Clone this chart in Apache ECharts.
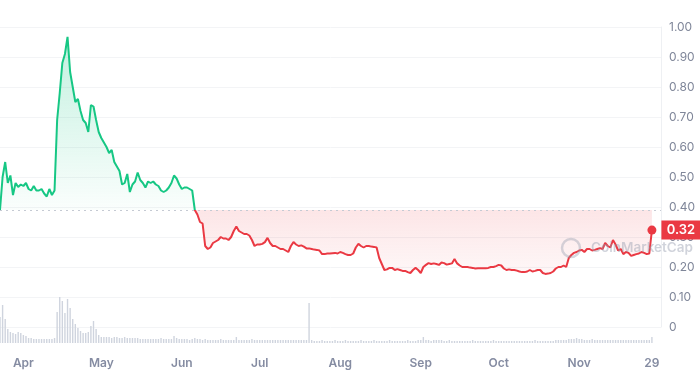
<!DOCTYPE html>
<html><head><meta charset="utf-8">
<script src="https://cdn.jsdelivr.net/npm/echarts@6/dist/echarts.min.js"></script>
<style>html,body{margin:0;padding:0;background:#fff}#c{width:700px;height:373px}</style>
</head><body><div id="c"></div>
<script>
const startDate = '2022-03-23';
const prices = [
0.39,0.50,0.55,0.48,0.505,0.44,0.48,0.467,0.475,0.47,
0.48,0.46,0.455,0.47,0.455,0.455,0.46,0.445,0.435,0.46,
0.44,0.455,0.69,0.78,0.88,0.91,0.967,0.85,0.80,0.75,
0.76,0.72,0.69,0.68,0.65,0.74,0.735,0.69,0.65,0.63,
0.615,0.60,0.58,0.59,0.55,0.535,0.52,0.475,0.48,0.51,
0.45,0.475,0.485,0.515,0.49,0.48,0.465,0.485,0.48,0.485,
0.475,0.47,0.455,0.45,0.455,0.465,0.48,0.505,0.495,0.475,
0.46,0.465,0.465,0.46,0.455,0.39,0.375,0.35,0.345,0.27,
0.26,0.265,0.28,0.285,0.29,0.30,0.295,0.295,0.29,0.30,
0.32,0.335,0.32,0.315,0.31,0.31,0.305,0.29,0.27,0.275,
0.275,0.277,0.283,0.297,0.28,0.27,0.27,0.265,0.26,0.26,
0.255,0.25,0.27,0.283,0.275,0.27,0.272,0.268,0.262,0.262,
0.26,0.258,0.257,0.255,0.243,0.243,0.245,0.245,0.246,0.247,
0.245,0.25,0.247,0.243,0.24,0.24,0.245,0.265,0.277,0.27,
0.265,0.27,0.27,0.268,0.267,0.265,0.23,0.21,0.19,0.192,
0.197,0.197,0.19,0.193,0.19,0.187,0.187,0.183,0.18,0.19,
0.197,0.19,0.18,0.20,0.207,0.213,0.21,0.212,0.21,0.207,
0.215,0.213,0.208,0.21,0.212,0.227,0.212,0.205,0.20,0.20,
0.20,0.198,0.197,0.195,0.196,0.196,0.196,0.196,0.197,0.20,
0.20,0.203,0.207,0.205,0.195,0.19,0.192,0.19,0.19,0.188,
0.185,0.183,0.183,0.185,0.19,0.185,0.187,0.19,0.19,0.18,
0.177,0.178,0.18,0.185,0.195,0.20,0.20,0.205,0.20,0.23,
0.24,0.247,0.25,0.255,0.257,0.25,0.26,0.26,0.255,0.257,
0.26,0.263,0.26,0.28,0.27,0.265,0.29,0.275,0.255,0.26,
0.243,0.25,0.247,0.237,0.24,0.243,0.245,0.25,0.247,0.243,
0.245,0.323
];
const volumes = [
26,38,24,14,11,10,9,11,10,8,7,
5,5,4,4,4,4,4,4,4,4,
5,31,46,42,30,44,35,24,19,15,12,10,10,11,17,22,14,8,6,
6,6,6,5,6,6,5,5,6,5, 5,5,5,5,4,4,4,4,4,4, 4,4,5,4,4,4,4,7,5,4, 4,4,4,3,4,5,4,4,3,4,
3,3,3,3,3,4,3,3,3,3, 3,6,3,3,3,3,3,4,3,3, 3,3,3,3,3,3,3,3,3,3, 3,3,3,3,3,3,3,3,3,40,
3,2,2,2,3,2,2,2,2,3, 2,2,2,3,2,2,2,2,2,3, 2,2,2,2,3,2,2,2,2,2, 3,2,2,2,2,2,2,3,2,2,
2,3,3,6,3,3,2,3,3,3, 3,2,2,3,2,2,2,2,2,2, 2,2,3,2,2,2,2,2,2,2, 3,2,2,2,2,2,2,2,2,2,
2,2,2,2,2,2,3,2,2,2, 2,2,2,2,3,3,3,3,3,4, 4,4,5,4,4,3,3,3,4,3, 3,3,3,3,3,3,3,3,3,3,
3,3,3,3,3,3,3,3,3,3,3,6
];
const baselinePrice = 0.39;
const tickDates = ['2022-04-01','2022-05-01','2022-06-01','2022-07-01','2022-08-01','2022-09-01','2022-10-01','2022-11-01','2022-11-29'];
const tickLabels = ['Apr','May','Jun','Jul','Aug','Sep','Oct','Nov','29'];

const DAY = 86400000;
const t0 = Date.parse(startDate + 'T00:00:00Z');
const dates = prices.map((_, i) => new Date(t0 + i * DAY).toISOString().slice(0, 10));
const tickIdx = tickDates.map(d => dates.indexOf(d));
const lastIdx = prices.length - 1;
const lastPrice = prices[lastIdx];
const xMax = lastIdx + 3.5;
const GREEN = '#16c784', RED = '#ea3943';
const FONT = 'Inter, "Noto Sans", sans-serif';

const chart = echarts.init(document.getElementById('c'), null, {renderer: 'canvas'});
const option = {
  animation: false,
  grid: [
    {left: 0, right: 39, top: 27, bottom: 46},
    {left: 0, right: 39, top: 297, bottom: 30}
  ],
  xAxis: [
    {type: 'value', gridIndex: 0, min: 0, max: xMax, show: false},
    {type: 'value', gridIndex: 1, min: 0, max: xMax,
     axisLine: {show: false}, axisTick: {show: false}, splitLine: {show: false},
     axisLabel: {customValues: tickIdx, formatter: v => tickLabels[tickIdx.indexOf(v)],
       color: '#858ca2', fontSize: 12, fontWeight: 600, margin: 14, fontFamily: FONT}}
  ],
  yAxis: [
    {type: 'value', gridIndex: 0, position: 'right', min: 0, max: 1, interval: 0.1,
     axisLine: {show: true, onZero: false, lineStyle: {color: '#eef0f3'}}, axisTick: {show: false},
     splitLine: {lineStyle: {color: '#f3f4f6'}},
     axisLabel: {formatter: v => v === 0 ? '0' : v.toFixed(2), color: '#7f8699', fontSize: 12, margin: 8, fontFamily: FONT}},
    {type: 'value', gridIndex: 1, min: 0, max: 'dataMax', show: false}
  ],
  visualMap: {show: false, type: 'piecewise', seriesIndex: 0, dimension: 1,
    pieces: [{gte: 0, lte: baselinePrice, color: RED}, {gt: baselinePrice, lte: 2, color: GREEN}]},
  series: [
    {type: 'line', xAxisIndex: 0, yAxisIndex: 0, data: prices.map((v, i) => [i, v]),
     showSymbol: false, lineStyle: {width: 2}, z: 3,
     areaStyle: {origin: baselinePrice, opacity: 1, color: 'rgba(0,0,0,0)'},
     markLine: {silent: true, symbol: 'none', label: {show: false},
       lineStyle: {color: '#c5cad3', type: [2, 4], width: 1},
       data: [{yAxis: baselinePrice}]},
     markPoint: {silent: true, data: [
       {coord: [lastIdx, lastPrice], symbol: 'circle', symbolSize: 9, itemStyle: {color: RED}, label: {show: false}},
       {coord: [lastIdx, lastPrice], symbol: 'rect', symbolSize: [39, 19], symbolOffset: [29, 0],
        itemStyle: {color: RED},
        label: {show: true, position: 'inside', formatter: lastPrice.toFixed(2), color: '#fff', fontSize: 13, fontWeight: 600, fontFamily: FONT}}
     ]}
    },
    {type: 'bar', xAxisIndex: 1, yAxisIndex: 1, data: volumes.map((v, i) => [i, v]),
     barWidth: 1.4, itemStyle: {color: '#cfd4de'}, z: 1}
  ],
  graphic: [
    {type: 'circle', shape: {cx: 571, cy: 248, r: 9}, style: {fill: 'none', stroke: 'rgba(150,158,175,0.4)', lineWidth: 2.5}, z: 100, silent: true},
    {type: 'text', x: 591, y: 241, style: {text: 'CoinMarketCap', fontSize: 13.5, fontWeight: 600, fontFamily: FONT, fill: 'rgba(150,158,175,0.45)'}, z: 100, silent: true}
  ]
};
chart.setOption(option);

const pMax = Math.max(...prices), pMin = Math.min(...prices);
const yTop = chart.convertToPixel({yAxisIndex: 0}, pMax);
const yBase = chart.convertToPixel({yAxisIndex: 0}, baselinePrice);
const yBot = chart.convertToPixel({yAxisIndex: 0}, pMin);
const b = (yBase - yTop) / (yBot - yTop);
chart.setOption({series: [{areaStyle: {origin: baselinePrice, opacity: 1,
  color: new echarts.graphic.LinearGradient(0, yTop, 0, yBot, [
    {offset: 0, color: 'rgba(22,199,132,0.26)'},
    {offset: b - 0.0001, color: 'rgba(22,199,132,0.02)'},
    {offset: b, color: 'rgba(234,57,67,0.13)'},
    {offset: 1, color: 'rgba(234,57,67,0.04)'}
  ], true)}}]});
</script>
</body></html>
